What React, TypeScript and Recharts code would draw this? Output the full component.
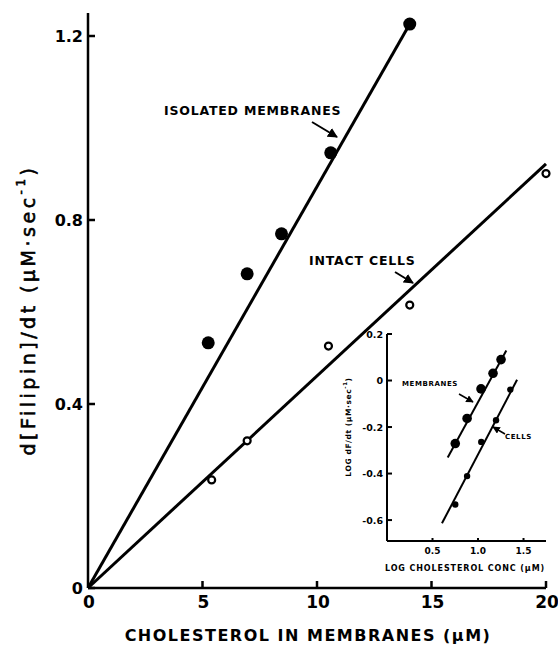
import React from 'react';
import { ComposedChart, Scatter, Line, XAxis, YAxis } from 'recharts';

// main plot: rate vs cholesterol
const membraneX = [5.25, 6.95, 8.45, 10.6, 14.05];
const membraneY = [0.533, 0.683, 0.77, 0.946, 1.226];
const cellX = [5.4, 6.95, 10.5, 14.05, 20.0];
const cellY = [0.235, 0.32, 0.526, 0.615, 0.901];
const membraneFitX = [0, 14.05];
const membraneFitY = [0, 1.226];
const cellFitX = [0, 20];
const cellFitY = [0, 0.922];
const mainXTicks = [0, 5, 10, 15, 20];
const mainYTicks = [0, 0.4, 0.8, 1.2];

// inset: log-log
const logMemX = [0.75, 0.88, 1.033, 1.165, 1.253];
const logMemY = [-0.271, -0.163, -0.036, 0.031, 0.09];
const logCellX = [0.75, 0.88, 1.036, 1.198, 1.355];
const logCellY = [-0.533, -0.411, -0.264, -0.171, -0.039];
const logMemFitX = [0.667, 1.311];
const logMemFitY = [-0.331, 0.129];
const logCellFitX = [0.604, 1.429];
const logCellFitY = [-0.614, 0.003];
const insetXTicks = [0.5, 1.0, 1.5];
const insetYTicks = [0.2, 0, -0.2, -0.4, -0.6];

const zip = (xs: number[], ys: number[]) => xs.map((x, i) => ({ x, y: ys[i] }));

const FONT = '"DejaVu Sans", sans-serif';

const fmt = (v: number) => (v === 0 ? '0' : v.toFixed(1));

const MainYTick = (props: any) => {
  const { x, y, payload } = props;
  return (
    <g>
      <line x1={x} y1={y} x2={x + 7} y2={y} stroke="#000" strokeWidth={2.5} />
      <text x={x - 5} y={y + 6} textAnchor="end" fontFamily={FONT} fontWeight="bold" fontSize={16} fill="#000">
        {fmt(payload.value)}
      </text>
    </g>
  );
};

const MainXTick = (props: any) => {
  const { x, y, payload } = props;
  return (
    <g>
      {payload.value !== 0 && <line x1={x} y1={y} x2={x} y2={y - 7} stroke="#000" strokeWidth={2.5} />}
      <text x={x + 1} y={y + 20} textAnchor="middle" fontFamily={FONT} fontWeight="bold" fontSize={17} fill="#000">
        {payload.value}
      </text>
    </g>
  );
};

const InsetYTick = (props: any) => {
  const { x, y, payload } = props;
  return (
    <g>
      <line x1={x} y1={y} x2={x + 5} y2={y} stroke="#000" strokeWidth={2} />
      <text x={x - 4} y={y + 3.5} textAnchor="end" fontFamily={FONT} fontWeight="bold" fontSize={9.5} fill="#000">
        {fmt(payload.value)}
      </text>
    </g>
  );
};

const InsetXTick = (props: any) => {
  const { x, y, payload } = props;
  return (
    <g>
      <line x1={x} y1={y} x2={x} y2={y - 3} stroke="#000" strokeWidth={2} />
      <text x={x} y={y + 13} textAnchor="middle" fontFamily={FONT} fontWeight="bold" fontSize={9} fill="#000">
        {payload.value.toFixed(1)}
      </text>
    </g>
  );
};

const dot = (r: number) => (p: any) => <circle cx={p.cx} cy={p.cy} r={r} fill="#000" />;
const ring = (r: number) => (p: any) => <circle cx={p.cx} cy={p.cy} r={r} fill="#fff" stroke="#000" strokeWidth={2.2} />;

const App = () => {
  return (
    <div style={{ position: 'absolute', left: 0, top: 0, width: 558, height: 651, background: '#fff', overflow: 'hidden' }}>
      <ComposedChart width={558} height={651} margin={{ top: 13, right: 12, bottom: 0, left: 0 }}>
        <XAxis
          type="number"
          dataKey="x"
          domain={[0, 20]}
          ticks={mainXTicks}
          tick={<MainXTick />}
          tickLine={false}
          tickSize={0}
          tickMargin={0}
          height={63}
          axisLine={{ stroke: '#000', strokeWidth: 2.5 }}
        />
        <YAxis
          type="number"
          dataKey="y"
          domain={[0, 1.25]}
          ticks={mainYTicks}
          tick={<MainYTick />}
          tickLine={false}
          tickSize={0}
          tickMargin={0}
          width={88}
          axisLine={{ stroke: '#000', strokeWidth: 2.5 }}
        />
        <Line data={zip(membraneFitX, membraneFitY)} dataKey="y" type="linear" stroke="#000" strokeWidth={3} dot={false} isAnimationActive={false} />
        <Line data={zip(cellFitX, cellFitY)} dataKey="y" type="linear" stroke="#000" strokeWidth={3} dot={false} isAnimationActive={false} />
        <Scatter data={zip(membraneX, membraneY)} dataKey="y" shape={dot(6.5)} isAnimationActive={false} />
        <Scatter data={zip(cellX, cellY)} dataKey="y" shape={ring(3.5)} isAnimationActive={false} />
      </ComposedChart>

      <div style={{ position: 'absolute', left: 330, top: 320 }}>
        <ComposedChart width={228} height={260} margin={{ top: 14, right: 12, bottom: 0, left: 0 }}>
          <XAxis
            type="number"
            dataKey="x"
            domain={[0, 1.747]}
            ticks={insetXTicks}
            tick={<InsetXTick />}
            tickLine={false}
            tickSize={0}
            tickMargin={0}
            height={39}
            axisLine={{ stroke: '#000', strokeWidth: 2 }}
          />
          <YAxis
            type="number"
            dataKey="y"
            domain={[-0.69, 0.2]}
            ticks={insetYTicks}
            tick={<InsetYTick />}
            tickLine={false}
            tickSize={0}
            tickMargin={0}
            width={57}
            axisLine={{ stroke: '#000', strokeWidth: 2 }}
          />
          <Line data={zip(logMemFitX, logMemFitY)} dataKey="y" type="linear" stroke="#000" strokeWidth={2} dot={false} isAnimationActive={false} />
          <Line data={zip(logCellFitX, logCellFitY)} dataKey="y" type="linear" stroke="#000" strokeWidth={2} dot={false} isAnimationActive={false} />
          <Scatter data={zip(logMemX, logMemY)} dataKey="y" shape={dot(4.8)} isAnimationActive={false} />
          <Scatter data={zip(logCellX, logCellY)} dataKey="y" shape={dot(3.2)} isAnimationActive={false} />
        </ComposedChart>
      </div>

      <svg width={558} height={651} style={{ position: 'absolute', left: 0, top: 0, pointerEvents: 'none' }}>
        <defs>
          <marker id="ah" viewBox="0 0 10 10" refX="9" refY="5" markerWidth="5" markerHeight="5" orient="auto">
            <path d="M0,0 L10,5 L0,10 z" fill="#000" />
          </marker>
        </defs>
        <text
          x={28}
          y={310}
          transform="rotate(-90 28 310)"
          textAnchor="middle"
          dominantBaseline="central"
          fontFamily={FONT}
          fontSize={19}
          fill="#000"
          stroke="#000"
          strokeWidth={0.6}
          letterSpacing={3.5}
        >
          d[Filipin]/dt (μM·sec<tspan dy={-7} fontSize={12}>-1</tspan><tspan dy={7}>)</tspan>
        </text>
        <g fontFamily={FONT} fontWeight="bold" fill="#000">
          <text x={308} y={641} textAnchor="middle" fontSize={16} letterSpacing={1.5}>
            CHOLESTEROL IN MEMBRANES (μM)
          </text>
          <text x={164} y={115} fontSize={12.5} letterSpacing={0.8}>ISOLATED MEMBRANES</text>
          <line x1={312} y1={122} x2={337} y2={137} stroke="#000" strokeWidth={2} markerEnd="url(#ah)" />
          <text x={309} y={265} fontSize={12.5} letterSpacing={0.8}>INTACT CELLS</text>
          <line x1={395} y1={272} x2={413} y2={283} stroke="#000" strokeWidth={2} markerEnd="url(#ah)" />

          <text x={402} y={386} fontSize={7} letterSpacing={0.6}>MEMBRANES</text>
          <line x1={459} y1={394} x2={473} y2={402} stroke="#000" strokeWidth={1.5} markerEnd="url(#ah)" />
          <text x={505} y={439} fontSize={7} letterSpacing={0.6}>CELLS</text>
          <line x1={505} y1={434} x2={493} y2={427} stroke="#000" strokeWidth={1.5} markerEnd="url(#ah)" />
          <text x={348} y={427} transform="rotate(-90 348 427)" textAnchor="middle" dominantBaseline="central" fontSize={7.5} letterSpacing={0.6}>
            LOG dF/dt (μM·sec<tspan dy={-3} fontSize={5.5}>-1</tspan><tspan dy={3}>)</tspan>
          </text>
          <text x={465} y={571} textAnchor="middle" fontSize={8} letterSpacing={0.9}>
            LOG CHOLESTEROL CONC (μM)
          </text>
        </g>
      </svg>
    </div>
  );
};

export default App;
